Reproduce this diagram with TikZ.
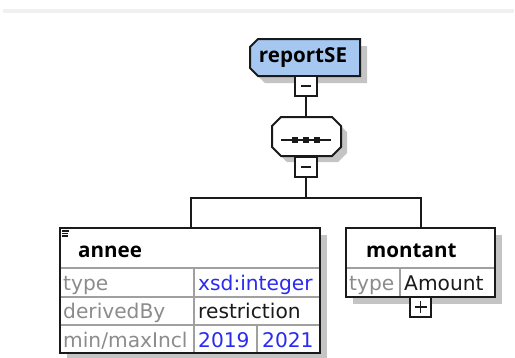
\documentclass[tikz,border=0pt]{standalone}
\usepackage{fontspec}
\setmainfont{DejaVu Sans}
\newfontfamily\hdrfont{Open Sans}
\definecolor{repblue}{HTML}{A6C8F0}
\definecolor{lblgray}{HTML}{8C8C8C}
\definecolor{valblue}{HTML}{2A2AF0}
\definecolor{linegray}{HTML}{A0A0A0}
\definecolor{shadowgray}{HTML}{C4C4C4}
\definecolor{bandgray}{HTML}{F0F0F0}
\definecolor{ink}{HTML}{1A1A1A}
\begin{document}
\begin{tikzpicture}[x=1pt,y=-1pt,
  outline/.style={draw=ink,line width=2pt},
  inner/.style={draw=linegray,line width=1.2pt},
  conn/.style={draw=ink,line width=2pt},
  shade/.style={fill=shadowgray},
  txt/.style={inner sep=0pt,anchor=base west,font=\fontsize{20.2}{24}\selectfont},
  hdr/.style={txt,font=\hdrfont\fontsize{20.6}{24}\selectfont\bfseries},
  lbl/.style={txt,text=lblgray},
  val/.style={txt,text=valblue},
  plain/.style={txt,text=ink},
  hook/.style={inner sep=0pt,minimum width=#1,draw=none},
  ctrl/.style={draw=ink,line width=1.8pt,fill=white,inner sep=0pt,minimum width=22pt,minimum height=20pt}
]
\useasboundingbox (0,0) rectangle (515,357);
\fill[white] (0,0) rectangle (515,357);
\fill[bandgray] (3,9) rectangle (514,13);

% ---- shadows
\fill[shade] (257,54) -- (265,46) -- (367,46) -- (367,83) -- (265,83) -- (257,75) -- cycle;
\fill[shade] (278,132) -- (287,123) -- (338,123) -- (347,132) -- (347,153) -- (338,162) -- (287,162) -- (278,153) -- cycle;
\fill[shade] (67,235) rectangle (327,360);
\fill[shade] (353,235) rectangle (502,304);

% ---- reportSE
\path[outline,fill=repblue] (250,47) -- (258,39) -- (360,39) -- (360,76) -- (258,76) -- (250,68) -- cycle;
\node[hook=110pt,minimum height=37pt] (rep) at (305,57.5) {};
\node[hdr,anchor=center] (reptxt) at (303,57.5) {reportSE};

% ---- minus box 1
\node[ctrl] (m1) at (306,86) {};
\draw[ink,line width=1.8pt] ([xshift=-5pt]m1.center) -- ([xshift=5pt]m1.center);

% ---- sequence
\path[outline,fill=white] (272,126) -- (281,117) -- (332,117) -- (341,126) -- (341,147) -- (332,156) -- (281,156) -- (272,147) -- cycle;
\node[hook=69pt,minimum height=39pt] (seq) at (306,136.5) {};
\draw[ink,line width=1.5pt] (281,140) -- (331,140);
\foreach \xx in {295,306,317} \fill[ink] (\xx-3,137) rectangle (\xx+3,143);

% ---- minus box 2
\node[ctrl] (m2) at (306,167) {};
\draw[ink,line width=1.8pt] ([xshift=-5pt]m2.center) -- ([xshift=5pt]m2.center);

% ---- annee
\node[hook=260pt,minimum height=125pt] (annee) at (191,290.5) {};
\path[fill=white] (60,228) rectangle (320,353);
\draw[inner] (60,268) -- (320,268);
\draw[inner] (60,297) -- (320,297);
\draw[inner] (60,325) -- (320,325);
\draw[inner] (194,268) -- (194,353);
\draw[inner] (257,325) -- (257,353);
\draw[outline] (60,228) rectangle (320,353);
\draw[ink,line width=1.1pt] (62,231) -- (69,231) (62,233.5) -- (68,233.5) (62,236) -- (68,236);
\node[hdr] (anneet) at (78,257) {annee};
\node[lbl] (l1) at (63,290) {type};
\node[val] (v1) at (198,290) {xsd:integer};
\node[lbl] (l2) at (63,318) {derivedBy};
\node[plain] (v2) at (198,318) {restriction};
\node[lbl] (l3) at (63,347) {min/maxIncl};
\node[val] (v3) at (198,347) {2019};
\node[val] (v4) at (262,347) {2021};

% ---- montant
\node[hook=149pt,minimum height=69pt] (montant) at (421,262.5) {};
\path[fill=white] (346,228) rectangle (495,297);
\draw[inner] (346,268) -- (495,268);
\draw[inner] (400,268) -- (400,297);
\draw[outline] (346,228) rectangle (495,297);
\node[hdr] (montantt) at (366,257) {montant};
\node[lbl] (l5) at (349,290) {type};
\node[plain] (v5) at (404,290) {Amount};

% ---- plus box
\node[ctrl,minimum width=21pt] (p1) at (420.5,307) {};
\draw[ink,line width=1.5pt] ([xshift=-6pt]p1.center) -- ([xshift=6pt]p1.center)
  ([yshift=-6pt]p1.center) -- ([yshift=6pt]p1.center);

% ---- connectors
\draw[conn] (m1.south) -- (seq.north);
\coordinate (fork) at (306,198);
\draw[conn] (m2.south) -- (fork);
\draw[conn] (annee.north) |- (fork) -| (montant.north);
\end{tikzpicture}
\end{document}
